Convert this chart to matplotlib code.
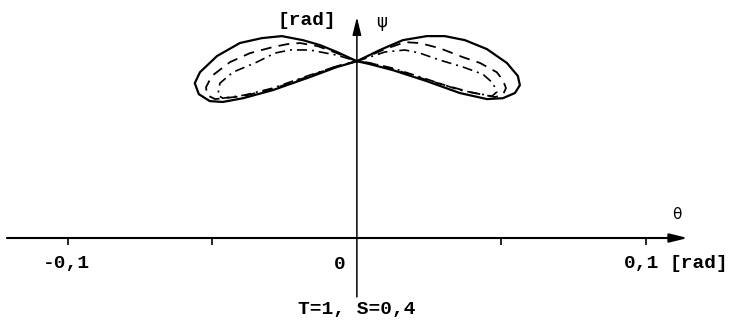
import matplotlib
matplotlib.use("Agg")
import matplotlib.pyplot as plt
from matplotlib.markers import TICKDOWN

# Phase-plane trajectories (theta, psi) in rad, T=1, S=0,4
solid_theta = [0.0, 0.0080, 0.0159, 0.0242, 0.0304, 0.0374, 0.0450, 0.0519, 0.0557,
               0.0564, 0.0547, 0.0505, 0.0450, 0.0356, 0.0242, 0.0125, 0.0045, 0.0,
               -0.0069, -0.0128, -0.0187, -0.0260, -0.0329, -0.0405, -0.0484, -0.0543,
               -0.0561, -0.0547, -0.0509, -0.0464, -0.0394, -0.0291, -0.0163, -0.0069, 0.0]
solid_psi = [0.0612, 0.0651, 0.0685, 0.0699, 0.0699, 0.0685, 0.0654, 0.0606, 0.0561,
             0.0529, 0.0502, 0.0484, 0.0481, 0.0502, 0.0543, 0.0581, 0.0602, 0.0612,
             0.0644, 0.0668, 0.0685, 0.0699, 0.0692, 0.0675, 0.0630, 0.0574,
             0.0536, 0.0498, 0.0474, 0.0471, 0.0484, 0.0512, 0.0557, 0.0592, 0.0612]

dashed_theta = [0.0, 0.0097, 0.0166, 0.0218, 0.0287, 0.0367, 0.0426, 0.0484, 0.0505,
                0.0516, 0.0505, 0.0478, 0.0391, 0.0242, 0.0125, 0.0045, 0.0,
                -0.0069, -0.0135, -0.0197, -0.0242, -0.0291, -0.0370, -0.0439, -0.0502,
                -0.0522, -0.0519, -0.0491, -0.0394, -0.0291, -0.0163, -0.0069, 0.0]
dashed_psi = [0.0612, 0.0654, 0.0678, 0.0675, 0.0657, 0.0626, 0.0606, 0.0574, 0.0547,
              0.0519, 0.0495, 0.0488, 0.0505, 0.0547, 0.0585, 0.0606, 0.0612,
              0.0640, 0.0664, 0.0675, 0.0671, 0.0661, 0.0640, 0.0609, 0.0561,
              0.0522, 0.0495, 0.0481, 0.0491, 0.0516, 0.0561, 0.0595, 0.0612]

dashdot_theta = [0.0, 0.0097, 0.0166, 0.0218, 0.0287, 0.0367, 0.0436, 0.0471, 0.0484,
                 0.0467, 0.0356, 0.0242, 0.0125, 0.0045, 0.0,
                 -0.0069, -0.0163, -0.0232, -0.0284, -0.0346, -0.0429, -0.0474, -0.0481,
                 -0.0464, -0.0388, -0.0291, -0.0163, -0.0069, 0.0]
dashdot_psi = [0.0612, 0.0644, 0.0651, 0.0640, 0.0616, 0.0592, 0.0567, 0.0536, 0.0505,
               0.0491, 0.0512, 0.0550, 0.0588, 0.0606, 0.0612,
               0.0633, 0.0651, 0.0651, 0.0640, 0.0609, 0.0574, 0.0536, 0.0495,
               0.0484, 0.0495, 0.0519, 0.0564, 0.0595, 0.0612]

theta_ticks = [-0.1, -0.05, 0.05, 0.1]
tick_labels = {-0.1: "-0,1", 0.0: "0", 0.1: "0,1"}
caption = "T=1, S=0,4"

plt.rcParams["font.family"] = ["Liberation Mono", "DejaVu Sans Mono", "DejaVu Sans"]

fig = plt.figure(figsize=(7.34, 3.29), dpi=100)
ax = fig.add_axes([0, 0, 1, 1])
ax.set_xlim(-0.1235, 0.1305)
ax.set_ylim(-0.0315, 0.0824)
ax.axis("off")

# coordinate axes with arrow heads
ax.annotate("", xy=(0.1145, 0), xytext=(-0.1211, 0),
            arrowprops=dict(arrowstyle="-|>,head_length=0.9,head_width=0.22",
                            lw=1.5, color="black", mutation_scale=12,
                            shrinkA=0, shrinkB=0))
ax.annotate("", xy=(0, 0.0765), xytext=(0, -0.0204),
            arrowprops=dict(arrowstyle="-|>,head_length=0.9,head_width=0.22",
                            lw=1.1, color="black", mutation_scale=12,
                            shrinkA=0, shrinkB=0))
ax.plot(theta_ticks, [0] * len(theta_ticks), linestyle="none", marker=TICKDOWN,
        markersize=5, mew=1.2, color="black")

# trajectories
ax.plot(solid_theta, solid_psi, color="black", lw=1.6, solid_joinstyle="round")
ax.plot(dashed_theta, dashed_psi, color="black", lw=1.3, dashes=(6, 4))
ax.plot(dashdot_theta, dashdot_psi, color="black", lw=1.2, dashes=(6, 3, 1.2, 3))

txt = dict(fontsize=14, fontweight="bold", color="black", ha="center", va="center")
ax.text(-0.1007, -0.0088, tick_labels[-0.1], **txt)
ax.text(-0.0059, -0.0093, tick_labels[0.0], **txt)
ax.text(0.0986, -0.0088, tick_labels[0.1], **txt)
ax.text(0.1185, -0.0088, "[rad]", **txt)
ax.text(-0.0173, 0.0754, "[rad]", **txt)
ax.text(0.1107, 0.0080, "θ", fontsize=11, color="black", ha="center", va="center",
        family="DejaVu Sans")
ax.text(0.0087, 0.0747, "ψ", fontsize=12, color="black", ha="center", va="center",
        family="DejaVu Sans")
ax.text(0.0, -0.0246, caption, **txt)

fig.savefig("out.png", dpi=100)
